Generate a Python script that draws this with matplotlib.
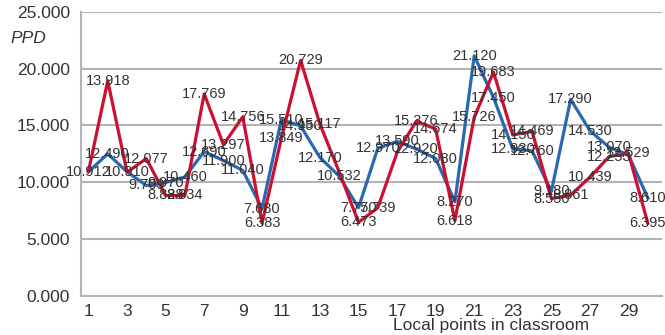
import matplotlib
matplotlib.use("Agg")
import matplotlib.pyplot as plt
import numpy as np

plt.rcParams['font.family'] = ['Liberation Sans', 'DejaVu Sans']

# measuring points 1..30 and PPD of the two cases
points = np.arange(1, 31)
ppd_blue = [10.912, 12.490, 10.910, 9.709, 9.970, 10.460, 12.690, 11.900, 11.040, 7.680,
            15.510, 14.950, 12.170, 10.532, 7.750, 12.970, 13.590, 12.920, 12.080, 8.270,
            21.120, 17.450, 12.930, 12.760, 9.180, 17.290, 14.530, 13.070, 12.400, 8.610]
ppd_red = [10.950, 18.918, 10.870, 12.077, 8.828, 8.834, 17.769, 13.297, 15.756, 6.383,
           13.849, 20.729, 15.117, 10.900, 6.473, 7.739, 12.600, 15.376, 14.674, 6.618,
           15.726, 19.683, 14.150, 14.469, 8.550, 8.861, 10.439, 12.253, 12.529, 6.395]

# value labels as printed on the chart (None = no label shown)
labels_blue = ["10.912", "12.490", "10.910", "9.709", "9.970", "10.460", "12.690", "11.900",
               "11.040", "7.680", "15.510", "14.950", "12.170", "10.532", "7.750", "12.970",
               "13.590", "12.920", "12.080", "8.270", "21.120", "17.450", "12.930", "12.760",
               "9.180", "17.290", "14.530", "13.070", None, "8.610"]
labels_red = [None, "13.918", None, "12.077", "8.828", "8.834", "17.769", "13.297", "14.756",
              "6.383", "13.849", "20.729", "15.117", None, "6.473", "7.739", None, "15.376",
              "14.674", "6.618", "15.726", "19.683", "14.150", "14.469", "8.550", "8.861",
              "10.439", "12.253", "12.529", "6.395"]

yticks = [0, 5, 10, 15, 20, 25]
xticks = list(range(1, 30, 2))

blue = "#2a68b0"
red = "#cc1030"
grid = "#b4b4b4"

fig = plt.figure(figsize=(6.65, 3.35), dpi=100)
ax = fig.add_axes([0.122, 0.117, 0.873, 0.848])

ax.plot(points, ppd_blue, color=blue, lw=2.3, zorder=3)
ax.plot(points, ppd_red, color=red, lw=2.3, zorder=4)

for x, y, t in zip(points, ppd_blue, labels_blue):
    if t:
        ax.text(x, y, t, ha="center", va="center", fontsize=10.5, color="#333333", zorder=5)
for x, y, t in zip(points, ppd_red, labels_red):
    if t:
        ax.text(x, y, t, ha="center", va="center", fontsize=10.5, color="#333333", zorder=5)

ax.set_xlim(0.62, 30.72)
ax.set_ylim(0, 25)
ax.set_yticks(yticks)
ax.set_yticklabels(["%.3f" % v for v in yticks])
ax.set_xticks(xticks)
ax.tick_params(axis="both", length=0, labelsize=12.5, colors="#333333")
ax.tick_params(axis="y", pad=8)
ax.tick_params(axis="x", pad=6)

ax.yaxis.grid(True, color=grid, lw=1.5)
ax.set_axisbelow(True)
for s in ["top", "right"]:
    ax.spines[s].set_visible(False)
for s in ["left", "bottom"]:
    ax.spines[s].set_color(grid)
    ax.spines[s].set_linewidth(1.5)

fig.text(0.015, 0.885, "PPD", fontsize=12.5, style="italic", color="#333333", va="center")
fig.text(0.738, 0.027, "Local points in classroom", fontsize=12.5, color="#333333",
         ha="center", va="center")

fig.savefig("out.png", dpi=100, facecolor="white")
